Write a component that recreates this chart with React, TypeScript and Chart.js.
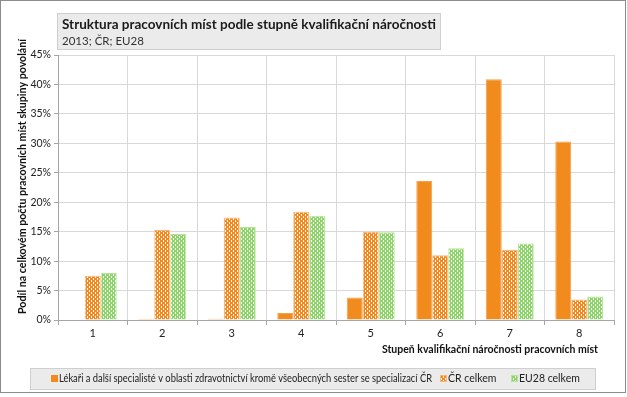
import React, { useEffect, useRef } from "react";
import { Chart, registerables } from "chart.js";

Chart.register(...registerables);

const categories = ["1", "2", "3", "4", "5", "6", "7", "8"];
const seriesNames = [
  "Lékaři a další specialisté v oblasti zdravotnictví kromě všeobecných sester se specializací ČR",
  "ČR celkem",
  "EU28 celkem",
];
const lekari = [0, 0.2, 0.2, 1.2, 3.8, 23.6, 40.9, 30.3];
const crCelkem = [7.5, 15.3, 17.4, 18.4, 15.0, 11.0, 11.9, 3.5];
const eu28Celkem = [8.0, 14.6, 15.8, 17.7, 14.9, 12.2, 13.0, 4.0];
const yTicks = [0, 5, 10, 15, 20, 25, 30, 35, 40, 45];

const chartTitle = "Struktura pracovních míst podle stupně kvalifikační náročnosti";
const chartSubtitle = "2013; ČR; EU28";
const yTitle = "Podíl na celkovém počtu pracovních míst skupiny povolání";
const xTitle = "Stupeň kvalifikační náročnosti pracovních míst";

const FONT = "'Lato', sans-serif";
const ORANGE = "#F28B1E";
const GREEN = "#8FD46A";

function makePattern(color: string): CanvasPattern | string {
  const c = document.createElement("canvas");
  c.width = 4;
  c.height = 4;
  const ctx = c.getContext("2d");
  if (!ctx) return color;
  ctx.fillStyle = "#ffffff";
  ctx.fillRect(0, 0, 4, 4);
  ctx.fillStyle = color;
  ctx.fillRect(0, 0, 2, 2);
  ctx.fillRect(2, 2, 2, 2);
  ctx.fillRect(1, 0, 2, 1);
  ctx.fillRect(0, 2, 1, 2);
  ctx.fillRect(2, 1, 1, 1);
  const p = ctx.createPattern(c, "repeat");
  return p || color;
}

export default function App() {
  const ref = useRef<HTMLCanvasElement | null>(null);

  useEffect(() => {
    if (!ref.current) return;
    const orangePat = makePattern(ORANGE);
    const greenPat = makePattern(GREEN);

    const decor = {
      id: "decor",
      beforeDraw(chart: any) {
        const ctx = chart.ctx as CanvasRenderingContext2D;
        ctx.save();
        ctx.fillStyle = "#ffffff";
        ctx.fillRect(0, 0, chart.width, chart.height);
        ctx.restore();
      },
      afterDraw(chart: any) {
        const ctx = chart.ctx as CanvasRenderingContext2D;
        const area = chart.chartArea;
        ctx.save();
        // outer border
        ctx.strokeStyle = "#8c8c8c";
        ctx.lineWidth = 1;
        ctx.strokeRect(0.5, 0.5, 625, 392);
        ctx.beginPath();
        ctx.moveTo(625.5, 0);
        ctx.lineTo(625.5, 393);
        ctx.stroke();

        // title box
        ctx.fillStyle = "#ebebeb";
        ctx.fillRect(57, 13, 384, 37);
        ctx.strokeStyle = "#cfcfcf";
        ctx.strokeRect(57.5, 13.5, 383, 36);
        ctx.fillStyle = "#1a1a1a";
        ctx.textBaseline = "middle";
        ctx.textAlign = "left";
        ctx.font = `bold 14px ${FONT}`;
        ctx.fillText(chartTitle, 62, 24, 374);
        ctx.font = `11.5px ${FONT}`;
        ctx.fillStyle = "#333333";
        ctx.fillText(chartSubtitle, 62, 41);

        // y axis title
        ctx.save();
        ctx.translate(22, (area.top + area.bottom) / 2 - 11);
        ctx.rotate(-Math.PI / 2);
        ctx.font = `bold 11px ${FONT}`;
        ctx.fillStyle = "#111111";
        ctx.textAlign = "center";
        ctx.textBaseline = "middle";
        ctx.fillText(yTitle, 0, 0, 275);
        ctx.restore();

        // x axis title
        ctx.font = `bold 10.5px ${FONT}`;
        ctx.fillStyle = "#111111";
        ctx.textAlign = "right";
        ctx.textBaseline = "middle";
        ctx.fillText(xTitle, 598, 350);

        // legend box
        ctx.fillStyle = "#ebebeb";
        ctx.fillRect(30, 368, 566, 22);
        ctx.strokeStyle = "#cfcfcf";
        ctx.strokeRect(30.5, 368.5, 565, 21);
        ctx.font = `10.5px ${FONT}`;
        ctx.textAlign = "left";
        const fills = [ORANGE, orangePat, greenPat];
        const borders = [ORANGE, "#F7B679", "#B6E39C"];
        const xs = [51, 440, 511];
        const maxW = [373, 60, 70];
        seriesNames.forEach((name, i) => {
          const x = xs[i];
          ctx.fillStyle = fills[i] as any;
          ctx.fillRect(x, 375, 7, 7);
          ctx.strokeStyle = borders[i];
          ctx.strokeRect(x + 0.5, 375.5, 6, 6);
          ctx.fillStyle = "#222222";
          ctx.fillText(name, x + 8, 379, maxW[i]);
        });
        ctx.restore();
      },
    };

    const chart = new Chart(ref.current, {
      type: "bar",
      data: {
        labels: categories,
        datasets: [
          {
            label: seriesNames[0],
            data: lekari,
            backgroundColor: ORANGE,
            borderColor: "#F5A04A",
            borderWidth: 1,
          },
          {
            label: seriesNames[1],
            data: crCelkem,
            backgroundColor: orangePat as any,
            borderColor: "#F7B679",
            borderWidth: 1,
          },
          {
            label: seriesNames[2],
            data: eu28Celkem,
            backgroundColor: greenPat as any,
            borderColor: "#B6E39C",
            borderWidth: 1,
          },
        ],
      },
      plugins: [decor],
      options: {
        responsive: false,
        animation: false,
        devicePixelRatio: 1,
        layout: { padding: { top: 55, right: 13, left: 0, bottom: 0 } },
        datasets: {
          bar: { categoryPercentage: 0.69, barPercentage: 1 },
        },
        plugins: {
          legend: { display: false },
          title: { display: false },
          tooltip: { enabled: false },
        },
        scales: {
          x: {
            afterFit(scale: any) {
              scale.height = 77;
            },
            grid: {
              color: "#d9d9d9",
              tickColor: "#a6a6a6",
              tickLength: 5,
              offset: true,
            },
            border: { color: "#a6a6a6", width: 1 },
            ticks: {
              font: { family: FONT, size: 11 },
              color: "#222222",
              padding: 2,
            },
          },
          y: {
            min: 0,
            max: 45,
            afterFit(scale: any) {
              scale.width = 58;
            },
            afterBuildTicks(scale: any) {
              scale.ticks = yTicks.map((v) => ({ value: v }));
            },
            grid: {
              color: "#d9d9d9",
              tickColor: "#a6a6a6",
              tickLength: 4,
            },
            border: { color: "#a6a6a6", width: 1 },
            ticks: {
              font: { family: FONT, size: 10.5 },
              color: "#222222",
              padding: 3,
              callback: (v: any) => `${v}%`,
            },
          },
        },
      },
    });
    return () => chart.destroy();
  }, []);

  return (
    <div style={{ position: "fixed", left: 0, top: 0, width: 627, height: 397, background: "#fff" }}>
      <canvas ref={ref} width={627} height={397} style={{ width: 627, height: 397, display: "block" }} />
    </div>
  );
}
